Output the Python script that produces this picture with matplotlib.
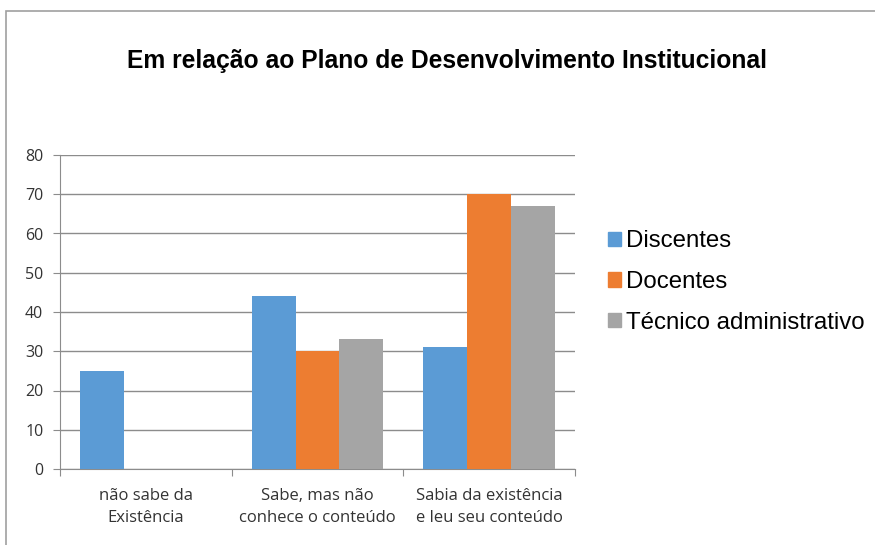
import matplotlib.pyplot as plt
import numpy as np
from matplotlib.patches import Rectangle

categories = ["não sabe da\nExistência",
              "Sabe, mas não\nconhece o conteúdo",
              "Sabia da existência\ne leu seu conteúdo"]
series_names = ["Discentes", "Docentes", "Técnico administrativo"]
discentes = [25, 44, 31]
docentes = [0, 30, 70]
tecnicos = [0, 33, 67]
colors = ["#5b9bd5", "#ed7d31", "#a5a5a5"]

fig = plt.figure(figsize=(8.75, 5.45), dpi=100)
ax = fig.add_axes([60 / 875, 1 - 469 / 545, 515 / 875, 314 / 545])

# chart frame (cropped at right/bottom in the reference)
fig.patches.append(Rectangle((5.5 / 875, -0.1), 1.2, 1 - 10.5 / 545 + 0.1,
                             transform=fig.transFigure, fill=False,
                             edgecolor="#a0a0a0", linewidth=1.2))

x = np.arange(len(categories))
w = 0.256
values = [discentes, docentes, tecnicos]
for i, (name, vals) in enumerate(zip(series_names, values)):
    ax.bar(x + (i - 1) * w, vals, width=w, color=colors[i], label=name, zorder=3)

ax.set_xlim(-0.5, 2.5)
ax.set_ylim(0, 80)
ax.set_yticks(np.arange(0, 81, 10))
ax.yaxis.grid(True, color="#8c8c8c", linewidth=1.0, zorder=0)
ax.set_xticks(np.arange(-0.5, 2.6, 1.0))
ax.set_xticklabels([])
ax.tick_params(axis="x", length=5, color="#8c8c8c")
ax.tick_params(axis="y", length=5, color="#8c8c8c", labelsize=11.5, pad=7)
for lab in ax.get_yticklabels():
    lab.set_fontfamily("Open Sans")
    lab.set_color("#333333")
for s in ["top", "right"]:
    ax.spines[s].set_visible(False)
for s in ["left", "bottom"]:
    ax.spines[s].set_color("#8c8c8c")

for xi, cat in zip(x, categories):
    ax.text(xi, -4.9, cat, ha="center", va="top", fontsize=12,
            family="Open Sans", linespacing=1.5, color="#333333")

fig.text(447 / 875, 1 - 61 / 545, "Em relação ao Plano de Desenvolvimento Institucional",
         ha="center", va="center", fontsize=17.7, fontweight="bold",
         family="Liberation Sans")

handles = [Rectangle((0, 0), 1, 1, color=c) for c in colors]
fig.legend(handles, series_names, loc="center left",
           bbox_to_anchor=(586 / 875, 1 - 282 / 545), frameon=False,
           prop={"family": "Liberation Sans", "size": 17.3},
           handlelength=0.55, handleheight=0.55, handletextpad=0.2,
           labelspacing=0.78)

fig.savefig("out.png", dpi=100)
